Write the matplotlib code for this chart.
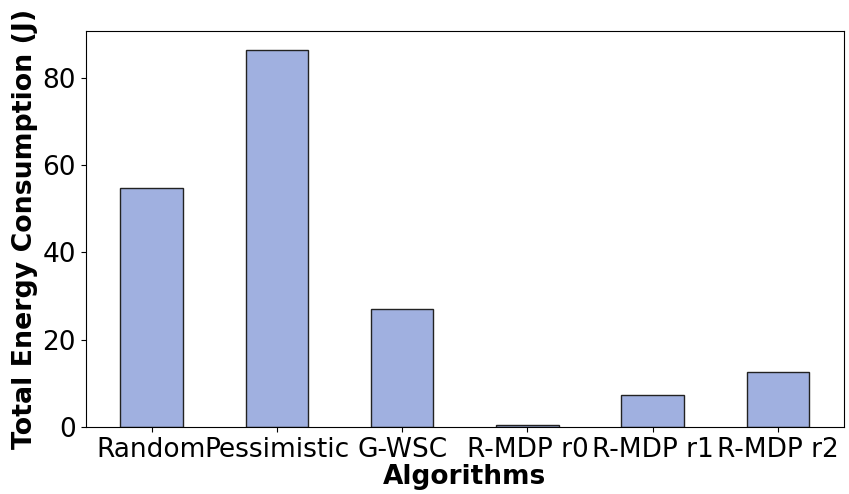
import matplotlib
matplotlib.use("Agg")
import matplotlib.pyplot as plt

algorithms = ["Random", "Pessimistic", "G-WSC", "R-MDP r0", "R-MDP r1", "R-MDP r2"]
energy = [54.7, 86.4, 27.1, 0.4, 7.2, 12.5]

fig = plt.figure(figsize=(8.49, 4.94), dpi=100)
ax = fig.add_axes([0.101, 0.136, 0.893, 0.801])
x = list(range(len(algorithms)))
ax.bar(x, energy, width=0.5, color="#a0b0e0", edgecolor="#222222", linewidth=1)
ax.set_xticks(x)
ax.set_xticklabels(algorithms)
ax.tick_params(axis="both", labelsize=19)
ax.set_xlabel("Algorithms", fontsize=19, fontweight="bold", labelpad=1)
ax.set_ylabel("Total Energy Consumption (J)", fontsize=19.3, fontweight="bold", labelpad=3)
fig.savefig("out.png", dpi=100)
